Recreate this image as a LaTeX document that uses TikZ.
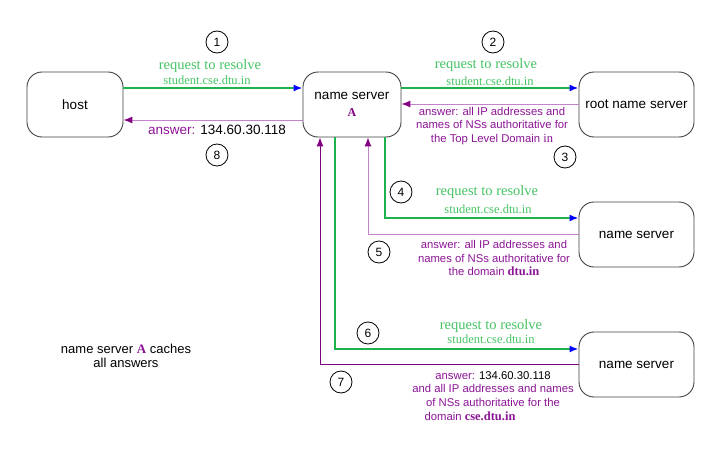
\documentclass[tikz,border=0pt]{standalone}
\usepackage{fontspec}
\setmainfont{Liberation Sans}
\newfontfamily\serifF{Liberation Serif}
\usetikzlibrary{arrows.meta}
\definecolor{reqgreen}{RGB}{30,178,76}
\definecolor{txtgreen}{RGB}{70,195,100}
\definecolor{dpurple}{RGB}{128,0,128}
\definecolor{lpurple}{RGB}{196,130,204}
\definecolor{tpurple}{RGB}{140,20,150}
\begin{document}
\begin{tikzpicture}[x=1pt,y=-1pt,
  server/.style={draw=black!75, line width=0.9pt, rounded corners=15pt, minimum width=115pt, minimum height=65pt, align=center, font=\fontsize{13.5}{16}\selectfont},
  num/.style={draw, circle, line width=0.8pt, minimum size=22pt, inner sep=0pt, font=\fontsize{12}{14}\selectfont},
  req/.style={text=txtgreen, font=\serifF\fontsize{14.5}{16}\selectfont, inner sep=0pt},
  reqb/.style={text=txtgreen, font=\serifF\fontsize{12.5}{14}\selectfont, inner sep=0pt},
  ans/.style={text=tpurple, align=center, font=\fontsize{11.3}{13.5}\selectfont, inner sep=0pt},
  reqline/.style={draw=reqgreen, line width=2.8pt, -{Latex[length=9pt,width=7pt,color=blue]}},
  ansline/.style={draw=lpurple, line width=1pt, -{Latex[length=9pt,width=7pt,color=dpurple]}},
  ansdark/.style={draw=dpurple, line width=1pt, -{Latex[length=9pt,width=7pt,color=dpurple]}}
]
\useasboundingbox (0,0) rectangle (713,455);

% servers
\node[server, minimum width=96pt] (host) at (75,104.5) {host};
\node[server, minimum width=98pt] (nsA) at (352,104.5) {name server\\[1pt]{\serifF\bfseries\fontsize{12}{14}\selectfont\color{dpurple}A}};
\node[server] (root) at (636.5,104.5) {root name server};
\node[server] (ns2) at (636.5,234.5) {name server};
\node[server] (ns3) at (636.5,364.5) {name server};

% step numbers
\node[num] (c1) at (217,42) {1};
\node[num] (c8) at (217,155) {8};
\node[num] (c2) at (493,42) {2};
\node[num] (c3) at (565,157) {3};
\node[num] (c4) at (401,192) {4};
\node[num] (c5) at (379,252) {5};
\node[num] (c6) at (368,333) {6};
\node[num] (c7) at (341,382) {7};

% step 1 / 8
\draw[reqline] (host.east |- 0,88) -- (nsA.west |- 0,88);
\node[req] (r1a) at (210,66) {request to resolve};
\node[reqb] (r1b) at (207,80) {student.cse.dtu.in};
\draw[ansline] (nsA.west |- 0,120) -- (host.east |- 0,120);
\node[ans, font=\fontsize{13.5}{16}\selectfont] (a8) at (217,130) {answer: \textcolor{black}{134.60.30.118}};

% step 2 / 3
\draw[reqline] (nsA.east |- 0,88) -- (root.west |- 0,88);
\node[req] (r2a) at (486,65) {request to resolve};
\node[reqb] (r2b) at (490,81) {student.cse.dtu.in};
\draw[ansline] (root.west |- 0,104) -- (nsA.east |- 0,104);
\node[ans] (a3) at (492,126) {answer: all IP addresses and\\names of NSs authoritative for\\the Top Level Domain {\serifF\fontsize{12.5}{13.5}\selectfont in}};

% step 4 / 5
\draw[reqline] (nsA.south -| 385,0) |- (ns2.west |- 0,218);
\node[req] (r4a) at (487,192) {request to resolve};
\node[reqb] (r4b) at (488,209) {student.cse.dtu.in};
\draw[ansline] (ns2.west |- 0,234) -| (nsA.south -| 368,0);
\node[ans] (a5) at (494,258) {answer: all IP addresses and\\names of NSs authoritative for\\the domain {\serifF\bfseries\fontsize{12.5}{13.5}\selectfont dtu.in}};

% step 6 / 7
\draw[reqline] (nsA.south -| 335,0) |- (ns3.west |- 0,349);
\node[req] (r6a) at (491,326) {request to resolve};
\node[reqb] (r6b) at (491,339) {student.cse.dtu.in};
\draw[ansdark] (ns3.west |- 0,364) -| (nsA.south -| 320,0);
\node[ans] (a7) at (493,389) {answer: \textcolor{black}{134.60.30.118}\\and all IP addresses and names\\of NSs authoritative for the};
\node[ans] (a7b) at (470,416) {domain {\serifF\bfseries\fontsize{12.5}{13.5}\selectfont cse.dtu.in}};

% caption
\node[align=center, inner sep=0pt, font=\fontsize{13}{14}\selectfont] (cap) at (126,356) {name server {\serifF\bfseries\color{tpurple}A} caches\\all answers};
\end{tikzpicture}
\end{document}
